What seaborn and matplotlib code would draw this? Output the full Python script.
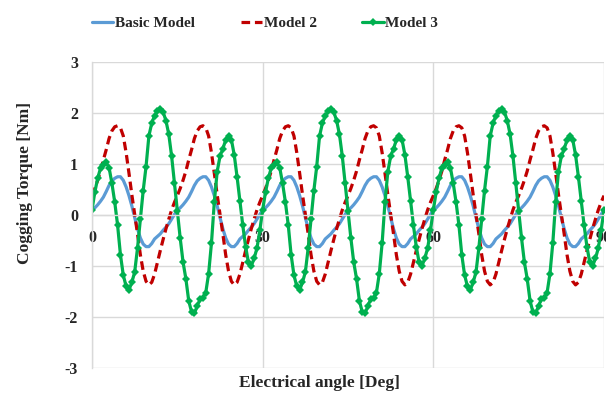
import matplotlib
matplotlib.use("Agg")
import matplotlib.pyplot as plt
import seaborn as sns
import pandas as pd

# Electrical angle sampled every 0.5 deg from 0 to 90
angle_deg = [i * 0.5 for i in range(181)]

# Cogging torque [Nm]
basic_model = [
    0.10, 0.14, 0.20, 0.27, 0.35, 0.46, 0.58, 0.67, 0.72, 0.75, 0.75, 0.68, 0.55, 0.38, 0.18,
    -0.05, -0.27, -0.45, -0.57, -0.62, -0.62, -0.56, -0.47, -0.42, -0.37, -0.30, -0.24, -0.17, -0.08, 0.01,
    0.10, 0.14, 0.20, 0.27, 0.35, 0.46, 0.58, 0.67, 0.72, 0.75, 0.75, 0.68, 0.55, 0.38, 0.18,
    -0.05, -0.27, -0.45, -0.57, -0.62, -0.62, -0.56, -0.47, -0.42, -0.37, -0.30, -0.24, -0.17, -0.08, 0.01,
    0.10, 0.14, 0.20, 0.27, 0.35, 0.46, 0.58, 0.67, 0.72, 0.75, 0.75, 0.68, 0.55, 0.38, 0.18,
    -0.05, -0.27, -0.45, -0.57, -0.62, -0.62, -0.56, -0.47, -0.42, -0.37, -0.30, -0.24, -0.17, -0.08, 0.01,
    0.10, 0.14, 0.20, 0.27, 0.35, 0.46, 0.58, 0.67, 0.72, 0.75, 0.75, 0.68, 0.55, 0.38, 0.18,
    -0.05, -0.27, -0.45, -0.57, -0.62, -0.62, -0.56, -0.47, -0.42, -0.37, -0.30, -0.24, -0.17, -0.08, 0.01,
    0.10, 0.14, 0.20, 0.27, 0.35, 0.46, 0.58, 0.67, 0.72, 0.75, 0.75, 0.68, 0.55, 0.38, 0.18,
    -0.05, -0.27, -0.45, -0.57, -0.62, -0.62, -0.56, -0.47, -0.42, -0.37, -0.30, -0.24, -0.17, -0.08, 0.01,
    0.10, 0.14, 0.20, 0.27, 0.35, 0.46, 0.58, 0.67, 0.72, 0.75, 0.75, 0.68, 0.55, 0.38, 0.18,
    -0.05, -0.27, -0.45, -0.57, -0.62, -0.62, -0.56, -0.47, -0.42, -0.37, -0.30, -0.24, -0.17, -0.08, 0.01,
    0.10,
]

model_2 = [
    0.38, 0.52, 0.68, 0.86, 1.08, 1.28, 1.50, 1.65, 1.73, 1.75, 1.71, 1.55, 1.22, 0.82, 0.40,
    0.02, -0.37, -0.78, -1.10, -1.30, -1.37, -1.32, -1.16, -0.93, -0.70, -0.48, -0.27, -0.08, 0.10, 0.25,
    0.38, 0.52, 0.68, 0.86, 1.08, 1.28, 1.50, 1.65, 1.73, 1.75, 1.71, 1.55, 1.22, 0.82, 0.40,
    0.02, -0.37, -0.78, -1.10, -1.30, -1.37, -1.32, -1.16, -0.93, -0.70, -0.48, -0.27, -0.08, 0.10, 0.25,
    0.38, 0.52, 0.68, 0.86, 1.08, 1.28, 1.50, 1.65, 1.73, 1.75, 1.71, 1.55, 1.22, 0.82, 0.40,
    0.02, -0.37, -0.78, -1.10, -1.30, -1.37, -1.32, -1.16, -0.93, -0.70, -0.48, -0.27, -0.08, 0.10, 0.25,
    0.38, 0.52, 0.68, 0.86, 1.08, 1.28, 1.50, 1.65, 1.73, 1.75, 1.71, 1.55, 1.22, 0.82, 0.40,
    0.02, -0.37, -0.78, -1.10, -1.30, -1.37, -1.32, -1.16, -0.93, -0.70, -0.48, -0.27, -0.08, 0.10, 0.25,
    0.38, 0.52, 0.68, 0.86, 1.08, 1.28, 1.50, 1.65, 1.73, 1.75, 1.71, 1.55, 1.22, 0.82, 0.40,
    0.02, -0.37, -0.78, -1.10, -1.30, -1.37, -1.32, -1.16, -0.93, -0.70, -0.48, -0.27, -0.08, 0.10, 0.25,
    0.38, 0.52, 0.68, 0.86, 1.08, 1.28, 1.50, 1.65, 1.73, 1.75, 1.71, 1.55, 1.22, 0.82, 0.40,
    0.02, -0.37, -0.78, -1.10, -1.30, -1.37, -1.32, -1.16, -0.93, -0.70, -0.48, -0.27, -0.08, 0.10, 0.25,
    0.38,
]

model_3 = [
    0.10, 0.45, 0.72, 0.92, 0.99, 1.03, 0.93, 0.62, 0.25, -0.20, -0.78, -1.18, -1.40, -1.47, -1.32,
    -1.12, -0.65, -0.08, 0.48, 0.95, 1.55, 1.80, 1.95, 2.03, 2.08, 2.02, 1.85, 1.58, 1.15, 0.62,
    0.08, -0.45, -0.92, -1.25, -1.68, -1.90, -1.93, -1.78, -1.65, -1.62, -1.52, -1.15, -0.55, 0.25, 0.85,
    1.15, 1.30, 1.47, 1.55, 1.48, 1.18, 0.75, 0.28, -0.20, -0.62, -0.93, -1.00, -0.85, -0.65, -0.30,
    0.10, 0.45, 0.72, 0.92, 0.99, 1.03, 0.93, 0.62, 0.25, -0.20, -0.78, -1.18, -1.40, -1.47, -1.32,
    -1.12, -0.65, -0.08, 0.48, 0.95, 1.55, 1.80, 1.95, 2.03, 2.08, 2.02, 1.85, 1.58, 1.15, 0.62,
    0.08, -0.45, -0.92, -1.25, -1.68, -1.90, -1.93, -1.78, -1.65, -1.62, -1.52, -1.15, -0.55, 0.25, 0.85,
    1.15, 1.30, 1.47, 1.55, 1.48, 1.18, 0.75, 0.28, -0.20, -0.62, -0.93, -1.00, -0.85, -0.65, -0.30,
    0.10, 0.45, 0.72, 0.92, 0.99, 1.03, 0.93, 0.62, 0.25, -0.20, -0.78, -1.18, -1.40, -1.47, -1.32,
    -1.12, -0.65, -0.08, 0.48, 0.95, 1.55, 1.80, 1.95, 2.03, 2.08, 2.02, 1.85, 1.58, 1.15, 0.62,
    0.08, -0.45, -0.92, -1.25, -1.68, -1.90, -1.93, -1.78, -1.65, -1.62, -1.52, -1.15, -0.55, 0.25, 0.85,
    1.15, 1.30, 1.47, 1.55, 1.48, 1.18, 0.75, 0.28, -0.20, -0.62, -0.93, -1.00, -0.85, -0.65, -0.30,
    0.10,
]

x_ticks = [0, 30, 60, 90]
y_ticks = [-3, -2, -1, 0, 1, 2, 3]

df = pd.DataFrame({
    "angle": angle_deg,
    "Basic Model": basic_model,
    "Model 2": model_2,
    "Model 3": model_3,
})

sns.set_theme(style="white")
plt.rcParams["font.family"] = ["Liberation Serif", "DejaVu Serif"]
plt.rcParams["font.weight"] = "bold"

fig = plt.figure(figsize=(6.06, 3.94), dpi=100)
ax = fig.add_axes([92 / 606, 1 - 368 / 394, 512 / 606, 306 / 394])

grid_c = "#d9d9d9"
lw = 2.3

sns.lineplot(data=df, x="angle", y="Basic Model", ax=ax, color="#5b9bd5",
             linewidth=lw, label="Basic Model")
sns.lineplot(data=df, x="angle", y="Model 2", ax=ax, color="#c00000",
             linewidth=lw, dashes=False, label="Model 2")
ax.lines[-1].set_dashes((2.7, 1.5))
sns.lineplot(data=df, x="angle", y="Model 3", ax=ax, color="#00b050",
             linewidth=lw, marker="D", markersize=4.5, markeredgewidth=0,
             label="Model 3")

ax.set_xlim(0, 90)
ax.set_ylim(-3, 3)
ax.set_xticks(x_ticks)
ax.set_yticks(y_ticks)
ax.set_xticklabels([str(v) for v in x_ticks])
ax.set_yticklabels([str(v) for v in y_ticks])
ax.grid(True, color=grid_c, linewidth=1.0)
ax.set_axisbelow(True)

for side in ["top", "right"]:
    ax.spines[side].set_visible(False)
ax.spines["left"].set_color(grid_c)
ax.spines["left"].set_linewidth(1.0)
ax.spines["bottom"].set_position(("data", 0))
ax.spines["bottom"].set_color(grid_c)
ax.spines["bottom"].set_linewidth(1.0)

ax.tick_params(axis="both", length=0, labelsize=11.5)
ax.tick_params(axis="x", pad=11)
ax.tick_params(axis="y", pad=10)
for t in ax.get_xticklabels() + ax.get_yticklabels():
    t.set_fontweight("bold")

ax.set_xlabel("")
ax.set_ylabel("")
fig.text(319 / 606, 1 - 383 / 394, "Electrical angle [Deg]", ha="center",
         va="center", fontsize=12.5, fontweight="bold")
fig.text(25 / 606, 1 - 183 / 394, "Cogging Torque [Nm]", ha="center",
         va="center", rotation=90, fontsize=12.5, fontweight="bold")

handles, labels = ax.get_legend_handles_labels()
ax.get_legend().remove()
leg = fig.legend(handles, labels, loc="center", ncol=3,
                 bbox_to_anchor=(265 / 606, 1 - 23 / 394), frameon=False,
                 handlelength=1.4, handletextpad=0.1, columnspacing=3.0,
                 prop={"size": 11, "weight": "bold"})

fig.savefig("out.png", dpi=100)
